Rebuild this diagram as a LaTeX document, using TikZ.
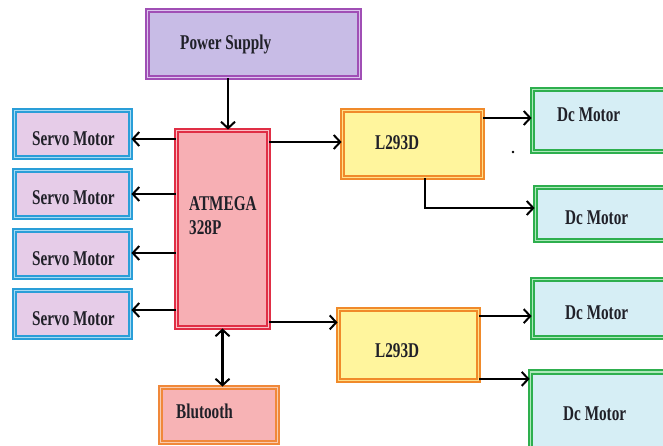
\documentclass[tikz,border=0pt]{standalone}
\usepackage{fontspec}
\newfontfamily\lbl{Liberation Serif}[FakeStretch=0.725]
\usetikzlibrary{arrows.meta,calc}
\definecolor{psB}{HTML}{A04FB5}\definecolor{psG}{HTML}{DCC6EE}\definecolor{psF}{HTML}{C8BCE6}
\definecolor{atB}{HTML}{E02E45}\definecolor{atG}{HTML}{F9C0C6}\definecolor{atF}{HTML}{F7AFB4}
\definecolor{svB}{HTML}{2A9ED8}\definecolor{svG}{HTML}{A6DAF2}\definecolor{svF}{HTML}{E6CCE8}
\definecolor{lB}{HTML}{F08A2A}\definecolor{lG}{HTML}{FFE08A}\definecolor{lF}{HTML}{FFF59D}
\definecolor{dB}{HTML}{2EAF4E}\definecolor{dG}{HTML}{AEE8BB}\definecolor{dF}{HTML}{D6EEF5}
\definecolor{bB}{HTML}{F0883A}\definecolor{bG}{HTML}{F9CBAE}\definecolor{bF}{HTML}{F7B3B5}
\definecolor{txt}{HTML}{202028}
\tikzset{
  bx/.style n args={3}{rectangle, draw=#1, double=#2, fill=#3, line width=1.8pt, double distance=1.6pt, inner sep=0pt},
  lab/.style={inner sep=0pt, text=txt, font=\lbl\bfseries\fontsize{21}{24}\selectfont, align=left},
  tip/.style={Straight Barb[length=6.5pt,width=14pt,line width=2pt]},
  arr/.style={draw=black, line width=2.1pt, -{Straight Barb[length=6.5pt,width=14pt,line width=2pt]}},
  darr/.style={draw=black, line width=2.1pt, {Straight Barb[length=6.5pt,width=14pt,line width=2pt]}-{Straight Barb[length=6.5pt,width=14pt,line width=2pt]}}
}
\begin{document}
\begin{tikzpicture}[x=1pt,y=-1pt]
\clip (0,0) rectangle (663,446);
\fill[white] (0,0) rectangle (663,446);
% boxes
\node[bx={psB}{psG}{psF}, minimum width=212pt, minimum height=67pt] (ps) at (253.5,44) {};
\node[bx={atB}{atG}{atF}, minimum width=92pt, minimum height=197pt] (atm) at (222.5,229) {};
\node[bx={svB}{svG}{svF}, minimum width=116pt, minimum height=47pt] (s1) at (72.5,134) {};
\node[bx={svB}{svG}{svF}, minimum width=116pt, minimum height=47pt] (s2) at (72.5,194) {};
\node[bx={svB}{svG}{svF}, minimum width=116pt, minimum height=47pt] (s3) at (72.5,254) {};
\node[bx={svB}{svG}{svF}, minimum width=116pt, minimum height=47pt] (s4) at (72.5,314) {};
\node[bx={lB}{lG}{lF}, minimum width=140pt, minimum height=67pt] (l1) at (412.5,144) {};
\node[bx={lB}{lG}{lF}, minimum width=140pt, minimum height=71pt] (l2) at (408.5,345) {};
\node[bx={dB}{dG}{dF}, minimum width=195pt, minimum height=62pt] (d1) at (630,120.5) {};
\node[bx={dB}{dG}{dF}, minimum width=192pt, minimum height=53pt] (d2) at (631.5,214) {};
\node[bx={dB}{dG}{dF}, minimum width=195pt, minimum height=58pt] (d3) at (630,308.5) {};
\node[bx={dB}{dG}{dF}, minimum width=197pt, minimum height=80pt] (d4) at (629,412) {};
\node[bx={bB}{bG}{bF}, minimum width=117pt, minimum height=55pt] (bt) at (219,415) {};
% labels
\node[lab, anchor=base west] (tps) at (180,50) {Power Supply};
\node[lab, anchor=north west] (tatm) at (189,196) {ATMEGA\\328P};
\node[lab, anchor=base west] (ts1) at (32,146) {Servo Motor};
\node[lab, anchor=base west] (ts2) at (32,205) {Servo Motor};
\node[lab, anchor=base west] (ts3) at (32,265) {Servo Motor};
\node[lab, anchor=base west] (ts4) at (32,325) {Servo Motor};
\node[lab, anchor=base west] (tl1) at (375,150) {L293D};
\node[lab, anchor=base west] (tl2) at (375,357) {L293D};
\node[lab, anchor=base west] (td1) at (557,122) {Dc Motor};
\node[lab, anchor=base west] (td2) at (565,225) {Dc Motor};
\node[lab, anchor=base west] (td3) at (565,319) {Dc Motor};
\node[lab, anchor=base west] (td4) at (563,420) {Dc Motor};
\node[lab, anchor=base west] (tbt) at (176,418) {Blutooth};
% connectors
\coordinate (x228) at (228,0);
\coordinate (x425) at (425,0);
\draw[arr] (ps.south -| x228) -- (atm.north -| x228);
\draw[arr] ([yshift=-5pt]s1.east -| atm.west) -- ([yshift=-5pt]s1.east);
\draw[arr] (s2.east -| atm.west) -- (s2.east);
\draw[arr] ([yshift=1pt]s3.east -| atm.west) -- ([yshift=1pt]s3.east);
\draw[arr] ([yshift=4pt]s4.east -| atm.west) -- ([yshift=4pt]s4.east);
\draw[arr] ([yshift=2pt]l1.west -| atm.east) -- ([yshift=2pt]l1.west);
\draw[arr] ([yshift=2.5pt]d1.west -| l1.east) -- ([yshift=2.5pt]d1.west);
\draw[arr] (l1.south -| x425) |- ([yshift=6pt]d2.west);
\draw[arr] ([yshift=6pt]atm.south east) -- ([yshift=6pt]atm.south east -| l2.west);
\draw[arr] ([yshift=-7.5pt]l2.north east) -- ([yshift=-7.5pt]l2.north east -| d3.west);
\draw[arr] ([yshift=2.5pt]l2.south east) -- ([yshift=2.5pt]l2.south east -| d4.west);
\draw[darr] (atm.south) -- (atm.south |- bt.north);
\fill[black] (513,152) circle (1.3pt);
\end{tikzpicture}
\end{document}
